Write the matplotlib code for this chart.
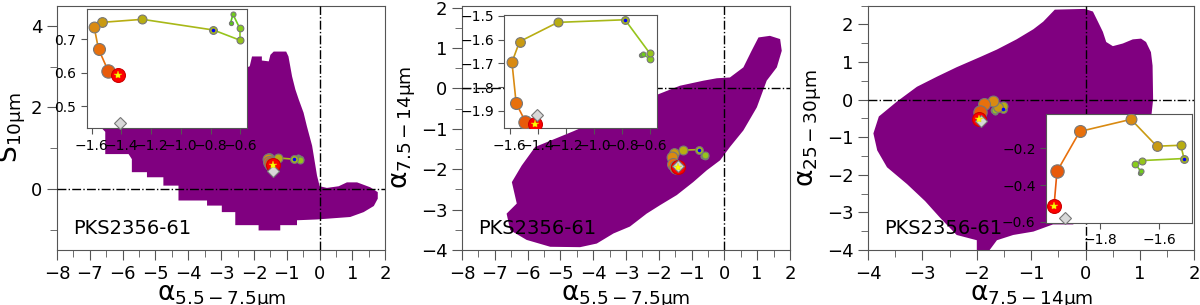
import matplotlib
matplotlib.use("Agg")
import matplotlib.pyplot as plt
from matplotlib.ticker import MultipleLocator

plt.rcParams['mathtext.default'] = 'regular'
plt.rcParams['font.family'] = ['DejaVu Sans']

# --- data: nuclear spectral indices for PKS2356-61 (sequence of apertures) ---
a557 = [-1.42, -1.488, -1.554, -1.584, -1.53, -1.258, -0.78, -0.604, -0.604, -0.649, -0.665]
s10 = [0.593, 0.605, 0.671, 0.738, 0.751, 0.76, 0.728, 0.698, 0.734, 0.775, 0.749]
a714 = [-1.955, -1.945, -1.868, -1.695, -1.608, -1.527, -1.516, -1.657, -1.68, -1.662, -1.665]
a2530 = [-0.513, -0.326, -0.109, -0.043, -0.189, -0.184, -0.256, -0.267, -0.287, -0.325, -0.337]
pt_colors = ['#ff0000', '#e85a0a', '#e8700c', '#d98a12', '#c99a12', '#b8ad12',
             '#a8b818', '#96c41c', '#88cc1c', '#70cc1c', '#58c818']
pt_sizes = [10, 9.6, 8.6, 7.8, 7.0, 6.4, 5.6, 5.0, 4.8, 3.6, 3.0]

# grey diamond (model / reference point)
ref_a557, ref_s10, ref_a714, ref_a2530 = -1.409, 0.449, -1.919, -0.58

# model region outlines (purple)
reg1_x = [-6.65, -6.53, -6.53, -5.82, -5.72, -5.72, -5.26, -5.26, -4.76, -4.76, -4.30, -4.30,
          -3.43, -3.43, -2.98, -2.98, -2.57, -2.57, -1.86, -1.86, -1.20, -1.20, -0.69, -0.69,
          -0.08, 0.93, 1.34, 1.65, 1.77, 1.77, 1.54, 1.14, 0.83, 0.58, 0.22, 0.0, -0.08,
          -0.13, -0.23, -0.39, -0.49, -0.64, -0.74, -0.84, -0.95, -1.02, -1.40, -1.50, -1.55,
          -1.76, -1.76, -2.06, -2.13, -3.0, -5.0, -6.3]
reg1_y = [1.50, 1.40, 0.854, 0.854, 0.73, 0.41, 0.41, 0.285, 0.285, 0.08, 0.08, -0.285,
          -0.285, -0.41, -0.41, -0.57, -0.57, -0.89, -0.89, -1.02, -1.02, -0.89, -0.89, -0.77,
          -0.75, -0.69, -0.57, -0.42, -0.24, -0.08, 0.04, 0.16, 0.16, 0.065, 0.024, 0.065, 0.325,
          0.57, 1.06, 1.54, 1.87, 2.20, 2.44, 2.76, 3.25, 3.37, 3.37, 3.29, 3.13,
          3.15, 3.25, 3.25, 3.01, 2.7, 2.2, 1.7]

reg2_x = [-5.77, -6.18, -6.48, -6.33, -6.64, -6.53, -6.03, -5.31, -4.40, -3.89, -3.38, -2.88,
          -2.37, -1.96, -1.45, -0.95, -0.54, -0.13, 0.17, 0.58, 0.99, 1.29, 1.60, 1.75, 1.70,
          1.39, 1.04, 0.83, 0.58, 0.17, -0.23, -0.64, -1.35, -2.06, -3.38, -4.60]
reg2_y = [-1.45, -1.91, -2.32, -2.85, -3.10, -3.51, -3.75, -3.92, -3.93, -3.84, -3.59, -3.42,
          -3.10, -2.89, -2.64, -2.32, -2.03, -1.78, -1.45, -1.04, -0.47, 0.19, 0.52, 0.93, 1.22,
          1.30, 1.26, 0.93, 0.52, 0.27, 0.25, 0.19, 0.066, -0.16, -0.63, -1.06]

reg3_x = [-0.567, -0.018, 0.134, 0.226, 0.317, 0.378, 0.5, 0.683, 0.866, 1.018, 1.11, 1.20,
          1.23, 1.24, 1.20, 0.87, -0.23, -0.6, -0.96, -1.33, -1.63, -1.79, -2.0, -2.0, -2.37,
          -2.67, -2.95, -3.28, -3.65, -3.83, -3.90, -3.80, -3.46, -3.10, -2.73, -2.37, -1.94,
          -1.63, -1.27, -0.96, -0.78, -0.66]
reg3_y = [2.39, 2.41, 2.34, 2.07, 1.80, 1.53, 1.42, 1.49, 1.60, 1.62, 1.53, 1.26,
          0.90, 0.0, -0.54, -1.80, -3.32, -3.32, -3.51, -3.60, -3.74, -4.05, -4.05, -3.74, -3.60,
          -3.15, -2.70, -2.25, -1.80, -1.35, -0.90, -0.45, -0.045, 0.34, 0.61, 0.86, 1.13,
          1.33, 1.60, 1.87, 2.07, 2.25]

source = 'PKS2356-61'
lab_a557 = r'$\alpha_{5.5-7.5\mu m}$'
lab_a714 = r'$\alpha_{7.5-14\mu m}$'
lab_a2530 = r'$\alpha_{25-30\mu m}$'
lab_s10 = r'$S_{10\mu m}$'

SPINE = '#555555'


def style_axes(ax, size, length):
    for sp in ax.spines.values():
        sp.set_color(SPINE)
    ax.tick_params(which='both', direction='out', colors=SPINE, labelcolor='black',
                   labelsize=size, length=length)
    ax.tick_params(which='minor', length=length * 0.75)


def draw_track(ax, xs, ys, rx, ry):
    # segments coloured along the sequence
    for i in range(len(xs) - 1):
        ax.plot(xs[i:i + 2], ys[i:i + 2], '-', color=pt_colors[i + 1], lw=1.2, zorder=4)
    for i in reversed(range(len(xs))):
        ax.plot(xs[i], ys[i], 'o', ms=pt_sizes[i], mfc=pt_colors[i],
                mec='#777777' if i else '#cc0000', mew=0.8, zorder=5)
    ax.plot(rx, ry, 'D', ms=6.5, mfc='#d8d8d8', mec='#777777', mew=0.8, zorder=6)
    ax.plot(xs[0], ys[0], '*', ms=6, color='yellow', mec='#dddd00', mew=0.3, zorder=7)
    ax.plot(xs[6], ys[6], 'o', ms=2.6, color='#0000ff', mew=0, zorder=7)


fig = plt.figure(figsize=(12, 3.05), dpi=100)

main_pos = [[0.0475, 0.1803, 0.2736, 0.8016],
            [0.385, 0.1803, 0.2733, 0.8016],
            [0.7233, 0.1803, 0.2721, 0.8016]]
inset_pos = [[0.0722, 0.5793, 0.1338, 0.3902],
             [0.4203, 0.5793, 0.1275, 0.3715],
             [0.8717, 0.2698, 0.1214, 0.3552]]

panels = [
    dict(reg=(reg1_x, reg1_y), xs=a557, ys=s10, ref=(ref_a557, ref_s10),
         xlim=(-8, 2), ylim=(-1.5, 4.5), xmaj=1, ymaj=2, ymin=1,
         xlabel=lab_a557, ylabel=lab_s10,
         ixlim=(-1.634, -0.553), iylim=(0.434, 0.79), ixmaj=0.2, iymaj=0.1),
    dict(reg=(reg2_x, reg2_y), xs=a557, ys=a714, ref=(ref_a557, ref_a714),
         xlim=(-8, 2), ylim=(-4, 2.05), xmaj=1, ymaj=1, ymin=0.5,
         xlabel=lab_a557, ylabel=lab_a714,
         ixlim=(-1.638, -0.55), iylim=(-1.973, -1.496), ixmaj=0.2, iymaj=0.1),
    dict(reg=(reg3_x, reg3_y), xs=a714, ys=a2530, ref=(ref_a714, ref_a2530),
         xlim=(-4, 2), ylim=(-4, 2.5), xmaj=1, ymaj=1, ymin=0.5,
         xlabel=lab_a714, ylabel=lab_a2530,
         ixlim=(-1.982, -1.49), iylim=(-0.605, -0.016), ixmaj=0.2, iymaj=0.2),
]

for p, mp, ip in zip(panels, main_pos, inset_pos):
    ax = fig.add_axes(mp)
    ax.fill(p['reg'][0], p['reg'][1], color='#800080', lw=0, zorder=1)
    ax.axhline(0, color='black', ls='-.', lw=1, zorder=3)
    ax.axvline(0, color='black', ls='-.', lw=1, zorder=3)
    draw_track(ax, p['xs'], p['ys'], *p['ref'])
    ax.set_xlim(*p['xlim'])
    ax.set_ylim(*p['ylim'])
    ax.xaxis.set_major_locator(MultipleLocator(p['xmaj']))
    ax.xaxis.set_minor_locator(MultipleLocator(0.5))
    ax.yaxis.set_major_locator(MultipleLocator(p['ymaj']))
    ax.yaxis.set_minor_locator(MultipleLocator(p['ymin']))
    style_axes(ax, 13, 7)
    ax.set_xlabel(p['xlabel'], fontsize=19, labelpad=1)
    ax.set_ylabel(p['ylabel'], fontsize=19, labelpad=2)
    ax.text(0.05, 0.09, source, transform=ax.transAxes, fontsize=14, va='center', zorder=8)

    ins = fig.add_axes(ip)
    ins.set_zorder(10)
    draw_track(ins, p['xs'], p['ys'], *p['ref'])
    ins.set_xlim(*p['ixlim'])
    ins.set_ylim(*p['iylim'])
    ins.xaxis.set_major_locator(MultipleLocator(p['ixmaj']))
    ins.yaxis.set_major_locator(MultipleLocator(p['iymaj']))
    for m in ins.lines:
        m.set_clip_on(False) if m.get_marker() == 'D' else None
    style_axes(ins, 10, 4)

fig.savefig('out.png', dpi=100)
